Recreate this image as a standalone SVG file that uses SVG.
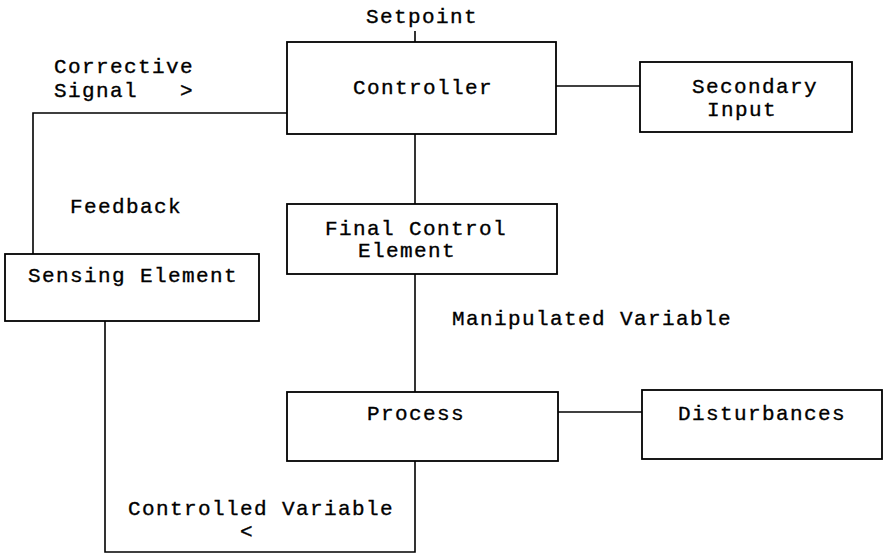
<svg xmlns="http://www.w3.org/2000/svg" width="885" height="555" viewBox="0 0 885 555">
  <style>
    .box { fill: #fff; stroke: #000; stroke-width: 1.8; }
    .wire { fill: none; stroke: #000; stroke-width: 1.6; }
    text { font-family: "Liberation Mono", "Courier New", monospace; font-size: 21px; letter-spacing: 1.4px; fill: #000; stroke: #000; stroke-width: 0.35; }
  </style>
  <rect width="885" height="555" fill="#fff"/>

  <!-- connectors -->
  <g id="connectors">
    <path class="wire" d="M415,31 V42"/>
    <path class="wire" d="M287,113 H33 V254"/>
    <path class="wire" d="M556,86 H640"/>
    <path class="wire" d="M415,134 V204"/>
    <path class="wire" d="M415,274 V392"/>
    <path class="wire" d="M557,412 H642"/>
    <path class="wire" d="M105,321 V552 H415 V461"/>
  </g>

  <!-- connector labels -->
  <g id="labels">
    <text x="366" y="23">Setpoint</text>
    <text x="54" y="73">Corrective</text>
    <text x="54" y="97" xml:space="preserve">Signal   &gt;</text>
    <text x="70" y="213">Feedback</text>
    <text x="452" y="325">Manipulated Variable</text>
    <text x="128" y="515">Controlled Variable</text>
    <text x="240" y="538">&lt;</text>
  </g>

  <g id="controller">
    <rect class="box" x="287" y="42" width="269" height="92"/>
    <text x="353" y="94">Controller</text>
  </g>

  <g id="secondary-input">
    <rect class="box" x="640" y="62" width="212" height="70"/>
    <text x="692" y="93">Secondary</text>
    <text x="707" y="116">Input</text>
  </g>

  <g id="final-control-element">
    <rect class="box" x="287" y="204" width="270" height="70"/>
    <text x="325" y="235">Final Control</text>
    <text x="358" y="257">Element</text>
  </g>

  <g id="sensing-element">
    <rect class="box" x="5" y="254" width="254" height="67"/>
    <text x="28" y="282">Sensing Element</text>
  </g>

  <g id="process">
    <rect class="box" x="287" y="392" width="271" height="69"/>
    <text x="367" y="420">Process</text>
  </g>

  <g id="disturbances">
    <rect class="box" x="642" y="390" width="240" height="69"/>
    <text x="678" y="420">Disturbances</text>
  </g>
</svg>
